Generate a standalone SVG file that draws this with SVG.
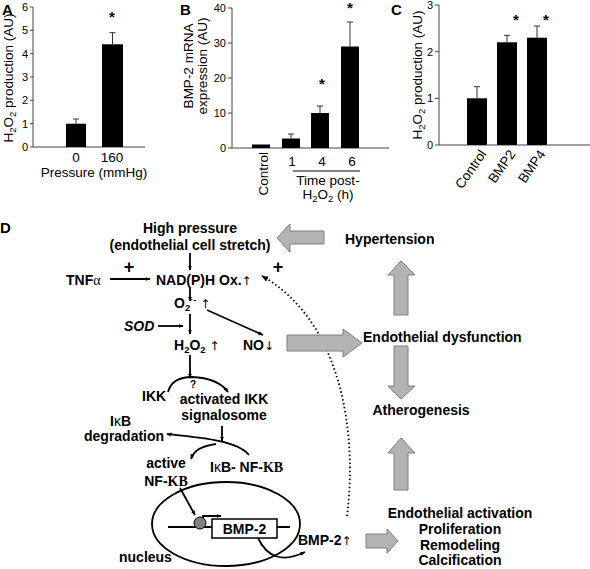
<svg xmlns="http://www.w3.org/2000/svg" width="590" height="569" viewBox="0 0 590 569">
<defs>
<style>
text{font-family:"Liberation Sans",Arial,sans-serif;fill:#000}
.pl{font-size:11px}
.lab{font-size:13.5px}
.big{font-size:15px;font-weight:bold}
.d{font-size:14px;font-weight:bold}
.th{font-weight:normal;font-family:"DejaVu Sans",sans-serif;fill:#000}
.ax{stroke:#444;stroke-width:1;fill:none}
.bar{fill:#000}
.err{stroke:#333;stroke-width:1;fill:none}
.ln{stroke:#000;stroke-width:1.8;fill:none}
.gr{fill:#b3b3b3;stroke:#7f7f7f;stroke-width:1}
.star{font-size:15px;font-weight:bold}
</style>
<marker id="ah" viewBox="0 0 10 10" refX="9" refY="5" markerWidth="5" markerHeight="5" orient="auto" markerUnits="userSpaceOnUse">
<path d="M0,1 L10,5 L0,9 z" fill="#000"/>
</marker>
<marker id="ahd" viewBox="0 0 10 10" refX="9" refY="5" markerWidth="7" markerHeight="7" orient="auto" markerUnits="userSpaceOnUse">
<path d="M0,1 L10,5 L0,9 z" fill="#000"/>
</marker>
</defs>

<!-- Panel A -->
<g id="panelA">
<text class="big" x="2" y="15">A</text>
<path class="ax" d="M33 7 V147 H145 M30 7 H33 M30 30.3 H33 M30 53.7 H33 M30 77 H33 M30 100.3 H33 M30 123.7 H33 M30 147 H33"/>
<g class="pl" text-anchor="end">
<text x="28" y="11">6</text><text x="28" y="34">5</text><text x="28" y="58">4</text><text x="28" y="81">3</text><text x="28" y="104">2</text><text x="28" y="128">1</text><text x="28" y="151">0</text>
</g>
<rect class="bar" x="66" y="123.7" width="20" height="23.3"/>
<path class="err" d="M76 123.7 V119 M73 119 H79"/>
<rect class="bar" x="102" y="44.3" width="21" height="102.7"/>
<path class="err" d="M112.5 44.3 V32.7 M109.5 32.7 H115.5"/>
<text class="star" x="112" y="22" text-anchor="middle">*</text>
<text class="lab" x="76" y="162" text-anchor="middle">0</text>
<text class="lab" x="112" y="162" text-anchor="middle">160</text>
<text class="lab" x="94" y="177" text-anchor="middle">Pressure (mmHg)</text>
<text class="lab" transform="translate(13,78) rotate(-90)" text-anchor="middle">H<tspan font-size="9.5" dy="3">2</tspan><tspan dy="-3">O</tspan><tspan font-size="9.5" dy="3">2</tspan><tspan dy="-3"> production (AU)</tspan></text>
</g>

<!-- Panel B -->
<g id="panelB">
<text class="big" x="180" y="15">B</text>
<path class="ax" d="M232 8 V148 H389 M228 8 H232 M228 43 H232 M228 78 H232 M228 113 H232 M228 148 H232"/>
<g class="pl" text-anchor="end">
<text x="226" y="12">40</text><text x="226" y="47">30</text><text x="226" y="82">20</text><text x="226" y="117">10</text><text x="226" y="152">0</text>
</g>
<rect class="bar" x="252" y="144.5" width="18" height="3.5"/>
<rect class="bar" x="282" y="138.5" width="18" height="9.5"/>
<path class="err" d="M291 138.5 V134 M288 134 H294"/>
<rect class="bar" x="311" y="113" width="18" height="35"/>
<path class="err" d="M320 113 V106 M317 106 H323"/>
<rect class="bar" x="341" y="46.5" width="18" height="101.5"/>
<path class="err" d="M350 46.5 V22 M347 22 H353"/>
<text class="star" x="322" y="89" text-anchor="middle">*</text>
<text class="star" x="350" y="13" text-anchor="middle">*</text>
<text class="lab" x="292" y="166" text-anchor="middle">1</text>
<text class="lab" x="322" y="166" text-anchor="middle">4</text>
<text class="lab" x="352" y="166" text-anchor="middle">6</text>
<path class="ax" d="M293 171 H360" style="stroke:#000"/>
<text class="lab" x="328" y="185" text-anchor="middle">Time post-</text>
<text class="lab" x="328" y="199" text-anchor="middle">H<tspan font-size="9.5" dy="3">2</tspan><tspan dy="-3">O</tspan><tspan font-size="9.5" dy="3">2</tspan><tspan dy="-3"> (h)</tspan></text>
<text class="lab" transform="translate(268,152) rotate(-90)" text-anchor="end">Control</text>
<text class="lab" transform="translate(193,66) rotate(-90)" text-anchor="middle">BMP-2 mRNA</text>
<text class="lab" transform="translate(207,66) rotate(-90)" text-anchor="middle">expression (AU)</text>
</g>

<!-- Panel C -->
<g id="panelC">
<text class="big" x="391" y="15">C</text>
<path class="ax" d="M439 5 V145 H590 M435 5 H439 M435 51.7 H439 M435 98.3 H439 M435 145 H439"/>
<g class="pl" text-anchor="end">
<text x="433" y="9">3</text><text x="433" y="56">2</text><text x="433" y="102">1</text><text x="433" y="149">0</text>
</g>
<rect class="bar" x="467" y="98.3" width="20" height="46.7"/>
<path class="err" d="M477 98.3 V86.7 M474 86.7 H480"/>
<rect class="bar" x="497" y="42.3" width="20" height="102.7"/>
<path class="err" d="M507 42.3 V35.3 M504 35.3 H510"/>
<rect class="bar" x="527" y="37.7" width="20" height="107.3"/>
<path class="err" d="M537 37.7 V26 M534 26 H540"/>
<text class="star" x="516" y="25" text-anchor="middle">*</text>
<text class="star" x="546" y="25" text-anchor="middle">*</text>
<text class="lab" transform="translate(487,154) rotate(-55)" text-anchor="end">Control</text>
<text class="lab" transform="translate(516,154) rotate(-55)" text-anchor="end">BMP2</text>
<text class="lab" transform="translate(546,154) rotate(-55)" text-anchor="end">BMP4</text>
<text class="lab" transform="translate(422,75) rotate(-90)" text-anchor="middle">H<tspan font-size="9.5" dy="3">2</tspan><tspan dy="-3">O</tspan><tspan font-size="9.5" dy="3">2</tspan><tspan dy="-3"> production (AU)</tspan></text>
</g>

<!-- Panel D -->
<text class="big" x="0" y="233">D</text>

<g id="connectors">
<path class="ln" d="M190 253 V270" marker-end="url(#ah)"/>
<path class="ln" d="M110 279 H150" marker-end="url(#ah)"/>
<path class="ln" d="M190 287 V301" marker-end="url(#ah)"/>
<path class="ln" d="M207 310 L263 335" marker-end="url(#ah)"/>
<path class="ln" d="M158 326 H183" marker-end="url(#ah)"/>
<path class="ln" d="M190 314 V334" marker-end="url(#ah)"/>
<path class="ln" d="M190 355 V378" marker-end="url(#ah)"/>
<path class="ln" d="M168 392 Q172 377 192 377 Q218 378 228 392" marker-end="url(#ah)"/>
<path class="ln" d="M222 426 V441" marker-end="url(#ah)"/>
<path class="ln" d="M249 455 C238 441 205 438 167 434" marker-end="url(#ah)"/>
<path class="ln" d="M216 444 C202 446 194 450 191 459" marker-end="url(#ah)"/>
<path class="ln" d="M180 488 L195 515" marker-end="url(#ah)"/>
<path class="ln" d="M168 527 H290"/>
<path class="ln" d="M203 518 V516 H221" stroke-width="1.5" marker-end="url(#ah)"/>
<path class="ln" d="M258 538 Q272 568 305 552" marker-end="url(#ah)"/>
<path d="M347 516 C358 430 340 320 262 276" fill="none" stroke="#000" stroke-width="1.8" stroke-dasharray="1.5,2.5" marker-end="url(#ahd)"/>
</g>

<g id="grayArrows">
<polygon class="gr" points="324,231 290,231 290,224 277,238 290,252 290,244 324,244"/>
<polygon class="gr" points="394,315 394,275 388,275 401,261 415,275 408,275 408,315"/>
<polygon class="gr" points="394,346 408,346 408,386 415,386 401,399 388,386 394,386"/>
<polygon class="gr" points="287,335 343,335 343,329 362,343 343,357 343,351 287,351"/>
<polygon class="gr" points="394,490 394,453 388,453 401,438 415,453 408,453 408,490"/>
<polygon class="gr" points="366,534 387,534 387,529 398,541 387,553 387,548 366,548"/>
</g>

<g id="nucleus">
<ellipse cx="226" cy="524" rx="74" ry="42" fill="none" stroke="#000" stroke-width="1.8"/>
<circle cx="200" cy="523" r="6" fill="#808080" stroke="#000" stroke-width="1"/>
<rect x="212" y="519" width="65" height="19" fill="#fff" stroke="#000" stroke-width="1.5"/>
<text class="d" x="244.5" y="534" text-anchor="middle">BMP-2</text>
<text class="d" x="119" y="562">nucleus</text>
</g>

<g id="highPressure"><text class="d" x="190" y="233" text-anchor="middle">High pressure</text><text class="d" x="190" y="250" text-anchor="middle">(endothelial cell stretch)</text></g>
<g id="tnfa"><text class="d" x="66" y="285">TNF<tspan font-weight="normal" font-family="Liberation Serif">α</tspan></text><text x="129" y="273" text-anchor="middle" font-size="18" font-weight="bold">+</text></g>
<g id="nadph"><text class="d" x="156" y="285">NAD(P)H Ox.<tspan class="th" font-size="12">↑</tspan></text><text x="278" y="273" text-anchor="middle" font-size="18" font-weight="bold">+</text></g>
<g id="o2"><text class="d" x="174" y="308">O<tspan font-size="9.5" dy="3">2</tspan><tspan font-size="9.5" dy="-8">·-</tspan><tspan class="th" font-size="12" dy="5"> ↑</tspan></text></g>
<g id="sod"><text class="d" x="124" y="331" font-style="italic">SOD</text></g>
<g id="h2o2"><text class="d" x="174" y="350">H<tspan font-size="9.5" dy="3">2</tspan><tspan dy="-3">O</tspan><tspan font-size="9.5" dy="3">2</tspan><tspan class="th" font-size="12" dy="-3"> ↑</tspan></text></g>
<g id="no"><text class="d" x="243" y="350">NO<tspan class="th" font-size="12">↓</tspan></text></g>
<g id="ikk"><text class="d" x="142" y="401">IKK</text><text x="193" y="388" text-anchor="middle" font-size="10" font-weight="bold">?</text></g>
<g id="activatedIKK"><text class="d" x="224" y="404" text-anchor="middle">activated IKK</text><text class="d" x="224" y="420" text-anchor="middle">signalosome</text></g>
<g id="ikbDeg"><text class="d" x="110" y="426">I<tspan font-weight="normal">κ</tspan>B</text><text class="d" x="84" y="441">degradation</text></g>
<g id="activeNFkB"><text class="d" x="166" y="468" text-anchor="middle">active</text><text class="d" x="166" y="486" text-anchor="middle">NF-<tspan font-family="Liberation Serif">KB</tspan></text></g>
<g id="ikbNFkB"><text class="d" x="210" y="472">I<tspan font-weight="normal">κ</tspan>B- NF-<tspan font-family="Liberation Serif">KB</tspan></text></g>
<g id="bmp2up"><text class="d" x="298" y="545">BMP-2<tspan class="th" font-size="12">↑</tspan></text></g>
<g id="hypertension"><text class="d" x="345" y="244">Hypertension</text></g>
<g id="endoDys"><text class="d" x="363" y="342">Endothelial dysfunction</text></g>
<g id="athero"><text class="d" x="421" y="415" text-anchor="middle">Atherogenesis</text></g>
<g id="endoAct"><text class="d" x="460" y="518" text-anchor="middle">Endothelial activation</text><text class="d" x="460" y="534" text-anchor="middle">Proliferation</text><text class="d" x="460" y="550" text-anchor="middle">Remodeling</text><text class="d" x="460" y="565" text-anchor="middle">Calcification</text></g>
</svg>
